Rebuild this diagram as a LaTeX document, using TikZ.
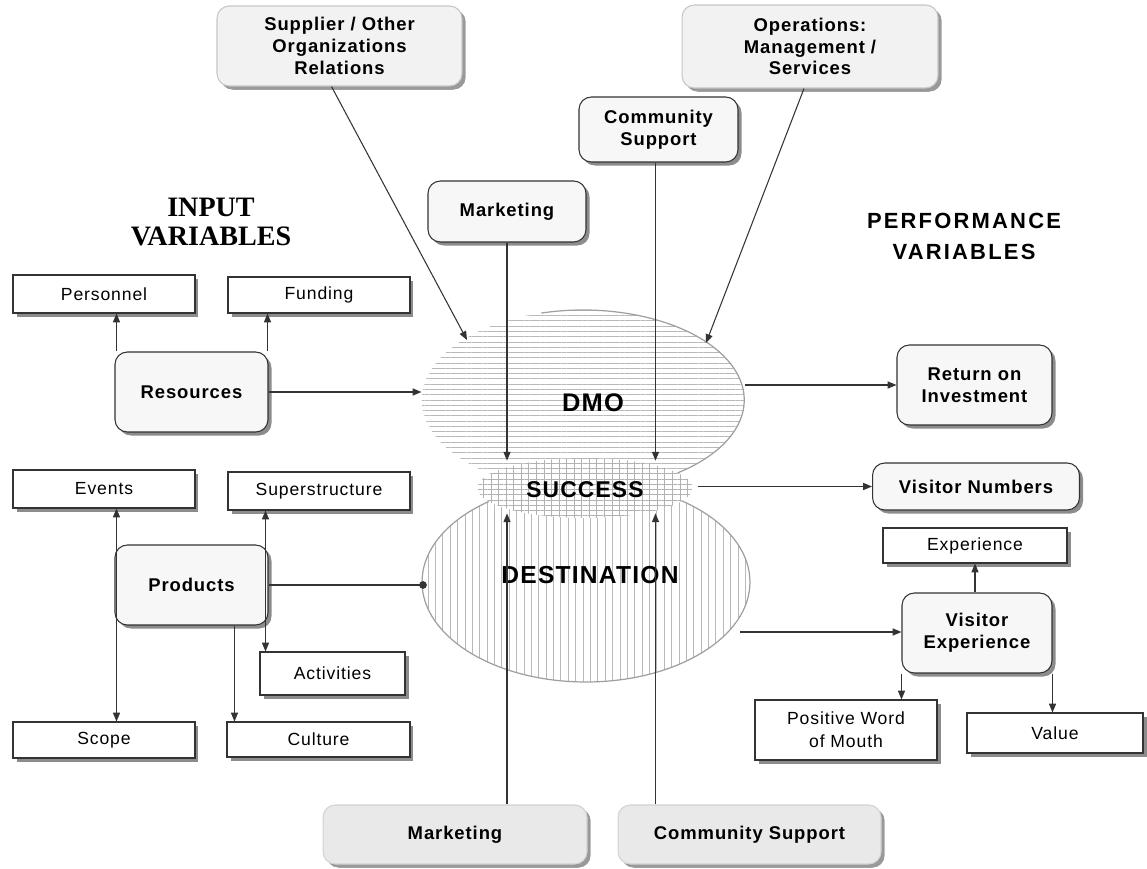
\documentclass[tikz,border=0pt]{standalone}
\usepackage{fontspec}
\setmainfont{Liberation Sans}
\newfontfamily\boxfont[LetterSpace=5]{Liberation Sans}
\newfontfamily\widesans[LetterSpace=10]{Liberation Sans}
\newfontfamily\titleserif{Liberation Serif}
\usetikzlibrary{patterns,patterns.meta,shadows,arrows.meta,shapes.geometric,calc}

\tikzset{
  shade box/.style={drop shadow={shadow xshift=2pt, shadow yshift=-2pt, fill=black!45, opacity=1}},
  sqbox/.style={draw=black!80, fill=white, line width=0.6pt, shade box, align=center, inner sep=1pt,
    font=\boxfont\fontsize{10}{13}\selectfont},
  rndbox/.style={draw=black!80, fill=gray!6, line width=0.6pt, rounded corners=7pt, shade box, align=center,
    inner sep=1pt, font=\boxfont\bfseries\fontsize{10.5}{12.3}\selectfont},
  outerbox/.style={rndbox, draw=gray!45, fill=gray!10, drop shadow={shadow xshift=2pt, shadow yshift=-2pt, fill=black!40, opacity=1}},
  lowbox/.style={outerbox, fill=gray!17, draw=gray!35},
  conn/.style={draw=black!80, line width=0.6pt},
  arr/.style={conn, -{Triangle[length=5pt,width=4pt]}},
  dbl/.style={conn, {Triangle[length=5pt,width=4pt]}-{Triangle[length=5pt,width=4pt]}},
  blob/.style={ellipse, inner sep=0pt, font=\boxfont\bfseries},
  hlines/.style={pattern={Lines[distance=3pt, line width=0.4pt]}, pattern color=gray!55},
  vlines/.style={pattern={Lines[angle=90, distance=4.2pt, line width=0.4pt]}, pattern color=gray!55},
}

\begin{document}
\begin{tikzpicture}[x=0.02cm, y=-0.02cm]
\useasboundingbox (0,0) rectangle (1147,869);

% --- central ellipses: destination (vertical hatch), DMO (horizontal hatch), success (cross hatch)
\node[blob, minimum width=6.56cm, minimum height=4cm, vlines, draw=gray!75, line width=0.7pt] (dest) at (586,582) {};
\node[blob, minimum width=6.45cm, minimum height=3.6cm, hlines] (dmo) at (583,400) {};
\draw[gray!75, line width=0.7pt] (583,400) ++(-105:161.25 and 90) arc[start angle=-105, end angle=58, x radius=161.25, y radius=90];
\node[blob, minimum width=4.3cm, minimum height=1.2cm, preaction={fill=white},
      preaction={pattern={Lines[distance=3pt, line width=0.4pt]}, pattern color=gray!60},
      pattern={Lines[angle=90, distance=4.3pt, line width=0.4pt]}, pattern color=gray!60] (succ) at (585,488) {};

\node[font=\boxfont\bfseries\fontsize{14.5}{16}\selectfont] (dmolbl) at (593,403) {DMO};
\node[font=\boxfont\bfseries\fontsize{13}{15}\selectfont] (succlbl) at (585,490) {SUCCESS};
\node[font=\boxfont\bfseries\fontsize{14}{16}\selectfont] (destlbl) at (590,575) {DESTINATION};

% --- titles
\node[font=\titleserif\bfseries\fontsize{16}{17}\selectfont, align=center] (intitle) at (211,222) {INPUT\\VARIABLES};
\node[font=\widesans\bfseries\fontsize{12.5}{17.6}\selectfont, align=center] (perftitle) at (964,236) {PERFORMANCE\\VARIABLES};

% --- outer influences
\node[outerbox, minimum width=4.9cm, minimum height=1.6cm] (sup) at (339.5,46) {Supplier / Other\\Organizations\\Relations};
\node[outerbox, minimum width=5.12cm, minimum height=1.66cm] (ops) at (810,46.5) {Operations:\\Management /\\Services};
\node[rndbox, minimum width=3.18cm, minimum height=1.3cm] (comm1) at (658.5,129.5) {Community\\Support};
\node[rndbox, minimum width=3.16cm, minimum height=1.22cm] (mkt1) at (507,211.5) {Marketing};
\node[lowbox, minimum width=5.28cm, minimum height=1.18cm] (mkt2) at (455,834.5) {Marketing};
\node[lowbox, minimum width=5.26cm, minimum height=1.18cm] (comm2) at (749.5,834.5) {Community Support};

% --- input variables
\node[sqbox, minimum width=3.64cm, minimum height=0.76cm] (pers) at (104,294) {Personnel};
\node[sqbox, minimum width=3.64cm, minimum height=0.72cm] (fund) at (319,295) {Funding};
\node[rndbox, minimum width=3.06cm, minimum height=1.6cm] (res) at (191.5,392) {Resources};
\node[sqbox, minimum width=3.64cm, minimum height=0.76cm] (events) at (104,489) {Events};
\node[sqbox, minimum width=3.64cm, minimum height=0.76cm] (sups) at (319,491) {Superstructure};
\node[rndbox, minimum width=3.06cm, minimum height=1.6cm] (prod) at (191.5,585) {Products};
\node[sqbox, minimum width=2.9cm, minimum height=0.86cm] (act) at (332.5,673.5) {Activities};
\node[sqbox, minimum width=3.64cm, minimum height=0.72cm] (scope) at (104,740) {Scope};
\node[sqbox, minimum width=3.66cm, minimum height=0.7cm] (cult) at (318.5,739.5) {Culture};

% --- performance variables
\node[rndbox, minimum width=3.1cm, minimum height=1.6cm] (roi) at (974.5,385) {Return on\\Investment};
\node[rndbox, minimum width=4.14cm, minimum height=0.94cm] (vn) at (976,486.5) {Visitor Numbers};
\node[sqbox, minimum width=3.68cm, minimum height=0.7cm] (exp) at (975,545.5) {Experience};
\node[rndbox, minimum width=3.0cm, minimum height=1.6cm] (ve) at (977,633) {Visitor\\Experience};
\node[sqbox, minimum width=3.64cm, minimum height=1.2cm] (pwom) at (846,730) {Positive Word\\of Mouth};
\node[sqbox, minimum width=3.52cm, minimum height=0.8cm] (val) at (1055,733) {Value};

% --- free ends on the ellipses
\coordinate (dmoleft) at (467,340);
\coordinate (dmoright) at (706,343);
\coordinate (culttop) at ($(cult.north west)+(8,0)$);
\coordinate (destdot) at (423,585);
\coordinate (destright) at (740,632);

% --- connectors: outer influences
\draw[arr] ($(sup.south)+(-8,0)$) -- (dmoleft);
\draw[arr] ($(ops.south)+(-6,0)$) -- (dmoright);
\draw[arr] (mkt1.south) -- ($(mkt1.south |- succ.north)+(0,3)$);
\draw[arr] ($(comm1.south)+(-3,0)$) -- ($(comm1.south |- succ.north)+(-3,3)$);
\draw[arr] (mkt2.north -| mkt1.south) -- ($(mkt1.south |- succ.south)+(0,-5)$);
\draw[arr] ($(comm2.north -| comm1.south)+(-3,0)$) -- ($(comm1.south |- succ.south)+(-3,-5)$);

% --- connectors: inputs
\draw[arr] ($(res.north west)+(2,0)$) -- ($(res.north west |- pers.south)+(2,0)$);
\draw[arr] ($(res.north east)+(-1,0)$) -- ($(res.north east |- fund.south)+(-1,0)$);
\draw[arr] (res.east) -- (res.east -| dmo.west);
\draw[dbl] ($(events.south -| prod.north west)+(2,0)$) -- ($(scope.north -| prod.north west)+(2,0)$);
\draw[dbl] ($(sups.south -| prod.north east)+(-3,0)$) -- ($(act.north -| prod.north east)+(-3,0)$);
\draw[arr] (prod.south -| culttop) -- (culttop);
\draw[conn] (prod.east) -- (destdot);
\fill[black!80] (destdot) circle[radius=2.2pt];

% --- connectors: performance
\draw[arr] (dmo.east |- roi.west) -- (roi.west);
\draw[arr] ($(succ.east |- vn.west)+(5,0)$) -- (vn.west);
\draw[arr] (destright) -- (destright -| ve.west);
\draw[arr] (ve.north -| exp.south) -- (exp.south);
\draw[arr] (ve.south west) -- (ve.south west |- pwom.north);
\draw[arr] (ve.south east) -- (ve.south east |- val.north);
\end{tikzpicture}
\end{document}
